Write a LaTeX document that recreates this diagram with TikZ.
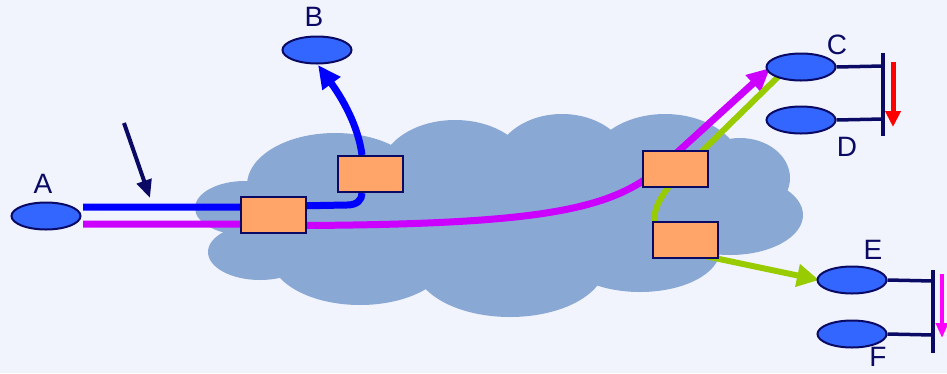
\documentclass[tikz,border=0pt]{standalone}
\usepackage{fontspec}
\setmainfont{Liberation Sans}
\usetikzlibrary{arrows.meta,shapes.geometric}
\definecolor{bg}{RGB}{242,244,253}
\definecolor{cloudc}{RGB}{138,168,212}
\definecolor{navy}{RGB}{10,10,100}
\definecolor{hostc}{RGB}{51,102,255}
\definecolor{boxc}{RGB}{255,165,105}
\definecolor{bluel}{RGB}{0,0,255}
\definecolor{magl}{RGB}{204,0,255}
\definecolor{greenl}{RGB}{153,204,0}
\definecolor{pinkl}{RGB}{255,0,255}
\pgfdeclarelayer{back}
\pgfdeclarelayer{lines}
\pgfsetlayers{back,lines,main}
\tikzset{
  host/.style={ellipse,draw=navy,line width=2pt,fill=hostc,minimum width=69pt,minimum height=27pt,inner sep=0pt},
  router/.style={rectangle,draw=navy,line width=2pt,fill=boxc,minimum width=65pt,minimum height=36pt,inner sep=0pt},
  lbl/.style={text=navy,font=\fontsize{28pt}{30pt}\selectfont,inner sep=0pt},
  bar/.style={draw=navy,line width=3.5pt},
  pathline/.style={line width=7pt,line join=round},
  bigtip/.style={-{Triangle[length=23pt,width=21pt]}},
}
\begin{document}
\begin{tikzpicture}[x=1pt,y=-1pt]
\useasboundingbox (0,0) rectangle (947,373);
\clip (0,0) rectangle (947,373);
\begin{pgfonlayer}{back}
\fill[bg] (0,0) rectangle (947,373);
\begin{scope}[cloudc]
\fill (245,208) ellipse [x radius=50pt, y radius=27pt];
\fill (335,185) ellipse [x radius=88pt, y radius=52pt];
\fill (455,172) ellipse [x radius=75pt, y radius=52pt];
\fill (562,166) ellipse [x radius=68pt, y radius=52pt];
\fill (665,170) ellipse [x radius=78pt, y radius=56pt];
\fill (740,178) ellipse [x radius=50pt, y radius=40pt];
\fill (730,215) ellipse [x radius=73pt, y radius=40pt];
\fill (640,250) ellipse [x radius=80pt, y radius=42pt];
\fill (510,265) ellipse [x radius=95pt, y radius=52pt];
\fill (360,255) ellipse [x radius=90pt, y radius=50pt];
\fill (260,252) ellipse [x radius=52pt, y radius=28pt];
\fill (500,212) ellipse [x radius=250pt, y radius=72pt];
\end{scope}
\end{pgfonlayer}
% nodes
\node[host] (A) at (46,216) {};
\node[host] (B) at (317,50) {};
\node[host] (C) at (801,67) {};
\node[host] (D) at (801,120) {};
\node[host] (E) at (852,280) {};
\node[host] (F) at (852,334) {};
\node[router] (R1) at (273,214.5) {};
\node[router] (R2) at (370,174) {};
\node[router] (R3) at (675.5,169) {};
\node[router] (R4) at (685,240) {};
% labels
\node[lbl] (lA) at (43,184) {A};
\node[lbl] (lB) at (314,17) {B};
\node[lbl] (lC) at (837,45) {C};
\node[lbl] (lD) at (847,147) {D};
\node[lbl] (lE) at (873,250) {E};
\node[lbl] (lF) at (878,357) {F};
% coordinates
\coordinate (a1) at (83,207);
\coordinate (a2) at (83,224);
\coordinate (c1) at (782,73);
\coordinate (cbar) at (883,66);
\coordinate (dbar) at (883,119);
\coordinate (ebar) at (933,281);
\coordinate (fbar) at (933,335);
\coordinate (v1) at (883,53);
\coordinate (v2) at (883,136);
\coordinate (w1) at (933,270);
\coordinate (w2) at (933,353);
\coordinate (k1) at (124,123);
\coordinate (k2) at (150,198);
\coordinate (r1) at (893,62);
\coordinate (r2) at (893,127);
\coordinate (p1) at (942,274);
\coordinate (p2) at (942,338);
\coordinate (btip) at (318,65);
\coordinate (ctip) at (770,68);
\coordinate (etip) at (819,280);
\coordinate (m3) at (659,169);
% lines behind routers
\begin{pgfonlayer}{lines}
\draw[pathline,bluel] (a1) -- (R1.west |- a1) -- (347,205) .. controls (357,205) and (362,200) .. (R2.south -| 362,0);
\draw[pathline,bluel,bigtip] (R2.north -| 362,0) .. controls (358,125) and (342,98) .. (btip);
\draw[pathline,magl] (a2) -- (R1.west |- a2) -- (306,225.5) .. controls (540,224) and (610,210) .. (m3);
\draw[pathline,magl,bigtip] (m3) -- (ctip);
\draw[pathline,greenl,line width=6pt] (c1) -- (690,163) .. controls (665,188) and (654,205) .. (R4.north -| 654,0);
\draw[pathline,greenl,line width=6pt,-{Triangle[length=22pt,width=22pt]}] (705,256) -- (etip);
\end{pgfonlayer}
% bars
\draw[bar] (C.east) -- (cbar);
\draw[bar] (D.east) -- (dbar);
\draw[bar] (v1) -- (v2);
\draw[bar] (E.east) -- (ebar);
\draw[bar] (F.east) -- (fbar);
\draw[bar] (w1) -- (w2);
% arrows
\draw[navy,line width=4pt,-{Triangle[length=18pt,width=15pt]}] (k1) -- (k2);
\draw[red,line width=5pt,-{Triangle[length=16pt,width=15pt]}] (r1) -- (r2);
\draw[pinkl,line width=4pt,-{Triangle[length=15pt,width=12pt]}] (p1) -- (p2);
\end{tikzpicture}
\end{document}
